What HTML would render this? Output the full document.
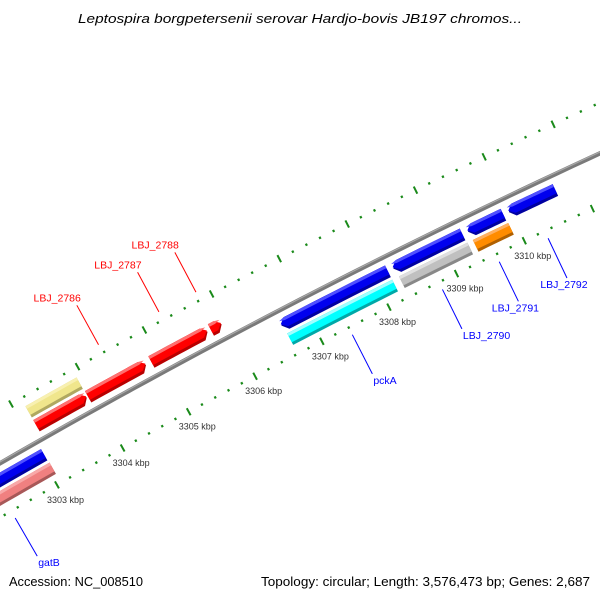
<!DOCTYPE html>
<html><head><meta charset="utf-8"><style>
html,body{margin:0;padding:0;background:#fff;}
svg{display:block;font-family:"Liberation Sans","DejaVu Sans",sans-serif;}
</style></head><body>
<svg id="chart" width="600" height="600" viewBox="0 0 600 600" xmlns="http://www.w3.org/2000/svg">
<text x="300" y="23" text-anchor="middle" font-size="13" font-style="italic" fill="#000" textLength="444" lengthAdjust="spacingAndGlyphs">Leptospira borgpetersenii serovar Hardjo-bovis JB197 chromos...</text>
<g id="plot"></g>
<text x="9" y="586" font-size="13" fill="#000" textLength="134" lengthAdjust="spacingAndGlyphs">Accession: NC_008510</text>
<text x="590" y="586" text-anchor="end" font-size="13" fill="#000" textLength="329" lengthAdjust="spacingAndGlyphs">Topology: circular; Length: 3,576,473 bp; Genes: 2,687</text>
</svg>
<script>
// gene data (kbp)
var geneStart = [3303.15, 3303.93, 3304.88, 3305.77, 3303.15, 3301.4, 3306.62, 3308.28, 3309.38, 3309.98, 3301.5, 3306.64, 3308.30, 3309.39];
var geneEnd   = [3303.91, 3304.80, 3305.72, 3305.93, 3303.92, 3303.05, 3308.20, 3309.30, 3309.90, 3310.66, 3303.06, 3308.20, 3309.31, 3309.91];
var geneRow   = [1, 1, 1, 1, 2, -1, -1, -1, -1, -1, -2, -2, -2, -2];
var geneStrand= [1, 1, 1, 1, 0, -1, -1, -1, -1, -1, 0, 0, 0, 0];
var geneColor = ["red","red","red","red","yellow","blue","blue","blue","blue","blue","pink","cyan","gray","orange"];
var geneName  = ["gene-red-1","gene-lbj-2786","gene-lbj-2787","gene-lbj-2788","gene-yellow","gene-blue-left","gene-blue-pcka","gene-blue-2790","gene-blue-2791","gene-lbj-2792","gene-gatb","gene-pcka","gene-lbj-2790","gene-lbj-2791"];
// labels
var labelText = ["LBJ_2786","LBJ_2787","LBJ_2788","gatB","pckA","LBJ_2790","LBJ_2791","LBJ_2792"];
var labelKb   = [3304.38, 3305.28, 3305.83, 3302.3, 3307.4, 3308.74, 3309.58, 3310.3];
var labelSide = [1, 1, 1, -1, -1, -1, -1, -1];
var labelAnchor = ["end","end","end","start","start","start","middle","middle"];
// ticks
var tickStartKb = 3301;
var tickEndKb = 3312;
var majorLabels = ["3303 kbp","3304 kbp","3305 kbp","3306 kbp","3307 kbp","3308 kbp","3309 kbp","3310 kbp"];
var majorLabelKb = [3303,3304,3305,3306,3307,3308,3309,3310];

var NS="http://www.w3.org/2000/svg";
var CX=3734, CY=6955, R=7489, A0=-119.61, DEG_PER_KB=0.58;
var plot=document.getElementById('plot');
function ang(kb){return (A0+(kb-3303)*DEG_PER_KB)*Math.PI/180;}
function pt(kb,r){var a=ang(kb);return [CX+r*Math.cos(a),CY+r*Math.sin(a)];}
function mk(tag,attrs){var e=document.createElementNS(NS,tag);for(var k in attrs)e.setAttribute(k,attrs[k]);return e;}
var pal={red:["#ff7070","#ff0000","#b80000"],blue:["#5050ff","#0000ee","#0000a0"],yellow:["#f8f0b0","#f0e68c","#b0a860"],
pink:["#f8a8a8","#f08080","#a85858"],cyan:["#a0ffff","#00ffff","#00a8a8"],gray:["#e0e0e0","#c0c0c0","#888888"],orange:["#ffb060","#ff8c00","#b06000"]};

// backbone
(function(){
  var d="";for(var i=0;i<=60;i++){var kb=3300+i*0.25;var p=pt(kb,R);d+=(i?"L":"M")+p[0].toFixed(2)+","+p[1].toFixed(2);}
  var bb=mk('path',{d:d,fill:"none",stroke:"#7a7a7a","stroke-width":4.5});
  
  
  plot.appendChild(bb);
  var d2="";for(var i=0;i<=60;i++){var kb=3300+i*0.25;var p=pt(kb,R+1.2);d2+=(i?"L":"M")+p[0].toFixed(2)+","+p[1].toFixed(2);}
  var hl=mk('path',{d:d2,fill:"none",stroke:"#a8a8a8","stroke-width":1.2});
  
  
  plot.appendChild(hl);
})();

// ticks
for(var side=-1;side<=1;side+=2){
  var rr=R+(side>0?46:-47);
  var n=Math.round((tickEndKb-tickStartKb)/0.2);
  for(var i=0;i<=n;i++){
    var kb=tickStartKb+i*0.2;
    var major=Math.abs(kb-Math.round(kb))<0.01;
    var h=major?4:1.2;
    var p1=pt(kb,rr-h),p2=pt(kb,rr+h);
    var t=mk('line',{x1:p1[0],y1:p1[1],x2:p2[0],y2:p2[1],stroke:"#1a8a1a","stroke-width":major?2:2.2});
    
    
    plot.appendChild(t);
  }
}
for(var i=0;i<majorLabels.length;i++){
  var p=pt(majorLabelKb[i],R-47);
  var tx=mk('text',{x:p[0]-10,y:p[1]+18,"font-size":"9",fill:"#333"});
  tx.textContent=majorLabels[i];
  
  
  plot.appendChild(tx);
}

// genes
function arcPts(k0,k1,r,out){var m=8;for(var i=0;i<=m;i++){var p=pt(k0+(k1-k0)*i/m,r);out.push(p);}}
function genePath(s,e,r1,r2,strand){
  var ah=0.075, pts=[];
  var rm=(r1+r2)/2;
  if(strand===1){var e2=Math.max(s,e-ah);arcPts(s,e2,r2,pts);pts.push(pt(e,rm));var b=[];arcPts(e2,s,r1,b);pts=pts.concat(b);}
  else if(strand===-1){var s2=Math.min(e,s+ah);pts.push(pt(s,rm));arcPts(s2,e,r2,pts);var b=[];arcPts(e,s2,r1,b);pts=pts.concat(b);}
  else{arcPts(s,e,r2,pts);var b=[];arcPts(e,s,r1,b);pts=pts.concat(b);}
  return "M"+pts.map(function(p){return p[0].toFixed(2)+","+p[1].toFixed(2);}).join("L")+"Z";
}
for(var i=0;i<geneStart.length;i++){
  var row=geneRow[i],rIn,rOut;
  if(row===1){rIn=R+8;rOut=R+21;}else if(row===2){rIn=R+24;rOut=R+37;}
  else if(row===-1){rIn=R-21;rOut=R-8;}else{rIn=R-37;rOut=R-24;}
  var c=pal[geneColor[i]];
  var g=mk('g',{});
  
  
  g.appendChild(mk('path',{d:genePath(geneStart[i],geneEnd[i],rIn,rOut,geneStrand[i]),fill:c[2]}));
  g.appendChild(mk('path',{d:genePath(geneStart[i],geneEnd[i],rIn+3,rOut,geneStrand[i]),fill:c[1]}));
  g.appendChild(mk('path',{d:genePath(geneStart[i],geneEnd[i],rOut-3,rOut,geneStrand[i]),fill:c[0]}));
  plot.appendChild(g);
}

// labels
for(var i=0;i<labelText.length;i++){
  var up=labelSide[i]>0;
  var col=up?"#ff0000":"#0000ff";
  var a=pt(labelKb[i],up?R+55:R-55), b=pt(labelKb[i],up?R+100:R-99);
  var ln=mk('line',{x1:a[0],y1:a[1],x2:b[0],y2:b[1],stroke:col,"stroke-width":1});
  
  
  plot.appendChild(ln);
  var tx=mk('text',{"font-size":"10.5",fill:col,"text-anchor":labelAnchor[i]});
  if(up){tx.setAttribute('x',b[0]+4);tx.setAttribute('y',b[1]-4);}
  else{tx.setAttribute('x',b[0]+(labelAnchor[i]==="start"?1:-3));tx.setAttribute('y',b[1]+10);}
  tx.textContent=labelText[i];
  
  
  plot.appendChild(tx);
}
</script>
</body></html>
